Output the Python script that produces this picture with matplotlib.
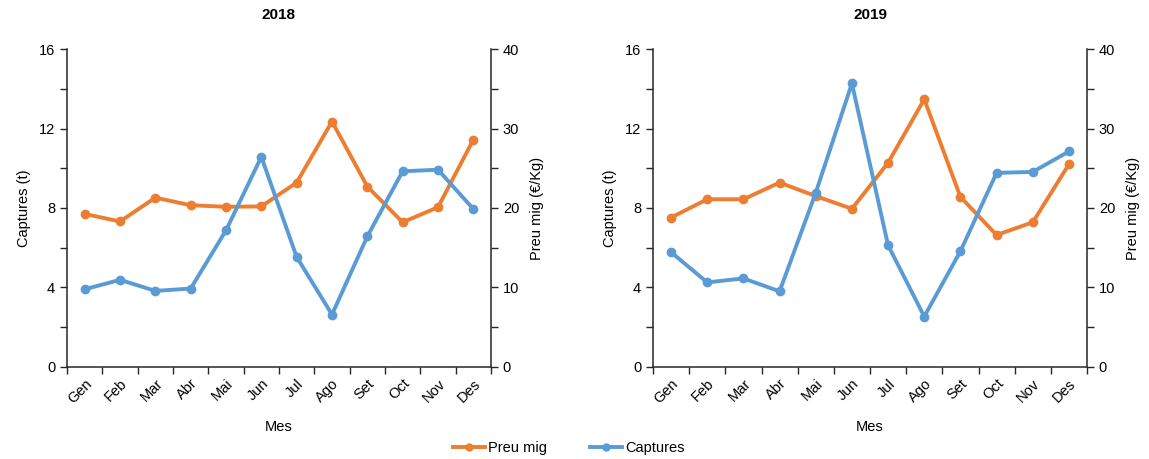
import matplotlib
matplotlib.use("Agg")
import matplotlib.pyplot as plt
from matplotlib.ticker import MultipleLocator, FixedLocator, NullFormatter
from matplotlib.lines import Line2D

plt.rcParams['font.family'] = ['Liberation Sans', 'DejaVu Sans']

months = ["Gen", "Feb", "Mar", "Abr", "Mai", "Jun", "Jul", "Ago", "Set", "Oct", "Nov", "Des"]
years = ["2018", "2019"]

captures_2018 = [3.9, 4.38, 3.82, 3.94, 6.87, 10.58, 5.53, 2.63, 6.57, 9.85, 9.93, 7.95]
preu_2018 = [19.25, 18.3, 21.3, 20.35, 20.15, 20.2, 23.2, 30.9, 22.7, 18.2, 20.1, 28.6]
captures_2019 = [5.77, 4.25, 4.45, 3.8, 8.77, 14.28, 6.12, 2.53, 5.82, 9.77, 9.82, 10.85]
preu_2019 = [18.8, 21.1, 21.1, 23.2, 21.5, 19.9, 25.7, 33.7, 21.4, 16.6, 18.2, 25.5]

captures = [captures_2018, captures_2019]
preus = [preu_2018, preu_2019]

c_orange = "#ED7D31"
c_blue = "#5B9BD5"
axis_col = "#262626"
fs = 10.5

fig = plt.figure(figsize=(11.49, 4.59), dpi=100)
positions = [(67/1149, 0.2011, 424/1149, 0.6915), (653/1149, 0.2011, 434/1149, 0.6915)]

x = list(range(len(months)))
for i in range(2):
    ax = fig.add_axes(positions[i])
    ax2 = ax.twinx()
    ax.set_zorder(ax2.get_zorder() + 1)
    ax.patch.set_visible(False)

    ax.plot(x, captures[i], color=c_blue, lw=2.8, marker='o', ms=6, solid_capstyle='round')
    ax2.plot(x, preus[i], color=c_orange, lw=2.8, marker='o', ms=6, solid_capstyle='round')

    ax.set_xlim(-0.5, len(months) - 0.5)
    ax.set_ylim(0, 16)
    ax2.set_ylim(0, 40)

    ax.yaxis.set_major_locator(MultipleLocator(4))
    ax.yaxis.set_minor_locator(MultipleLocator(2))
    ax2.yaxis.set_major_locator(MultipleLocator(10))
    ax2.yaxis.set_minor_locator(MultipleLocator(5))

    ax.xaxis.set_major_locator(FixedLocator([k - 0.5 for k in range(len(months) + 1)]))
    ax.xaxis.set_major_formatter(NullFormatter())
    ax.set_xticks(x, months, minor=True)
    for lab in ax.get_xticklabels(minor=True):
        lab.set_rotation(45)
        lab.set_ha('right')
        lab.set_va('top')
        lab.set_rotation_mode('anchor')
        lab.set_fontsize(fs)
    ax.tick_params(axis='x', which='minor', length=0, pad=7)
    ax.tick_params(axis='x', which='major', length=5, width=1, color=axis_col, direction='out')

    ax.tick_params(axis='y', which='both', length=5, width=1, color=axis_col, labelsize=fs, direction='out')
    ax2.tick_params(axis='y', which='both', length=5, width=1, color=axis_col, labelsize=fs, direction='out')

    for a in (ax, ax2):
        a.spines['top'].set_visible(False)
        for s in ('left', 'right', 'bottom'):
            a.spines[s].set_color(axis_col)
            a.spines[s].set_linewidth(1.1)
    ax.spines['right'].set_visible(False)
    ax2.spines['left'].set_visible(False)
    ax2.spines['bottom'].set_visible(False)

    ax.set_ylabel("Captures (t)", fontsize=fs, labelpad=6)
    ax2.set_ylabel("Preu mig (€/Kg)", fontsize=fs, labelpad=8)
    ax.set_xlabel("Mes", fontsize=fs, labelpad=10)
    ax.set_title(years[i], fontsize=11, fontweight='bold', pad=22)

handles = [Line2D([], [], color=c_orange, lw=2.8, marker='o', ms=5),
           Line2D([], [], color=c_blue, lw=2.8, marker='o', ms=5)]
fig.legend(handles, ["Preu mig", "Captures"], loc='lower center', bbox_to_anchor=(0.495, -0.02),
           ncol=2, frameon=False, fontsize=fs, handlelength=2.2, handletextpad=0.2, columnspacing=3)

fig.savefig("out.png", dpi=100)
